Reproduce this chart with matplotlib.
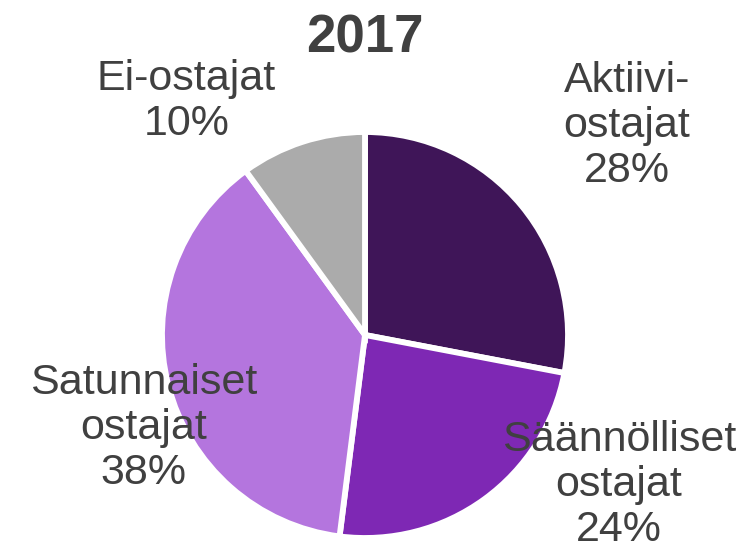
import matplotlib
matplotlib.use('Agg')
import matplotlib.pyplot as plt

plt.rcParams['font.family'] = ['Liberation Sans', 'DejaVu Sans']

# data
labels = ['Aktiivi-\nostajat', 'Säännölliset\nostajat', 'Satunnaiset\nostajat', 'Ei-ostajat']
values = [28, 24, 38, 10]
colors = ['#3f1558', '#7e28b4', '#b475de', '#ababab']
title = '2017'

fig = plt.figure(figsize=(7.43, 5.51), dpi=100)
# pie centre at about (365, 335) px, radius ~203 px
ax = fig.add_axes([(365 - 203) / 743, (551 - 335 - 203) / 551, 406 / 743, 406 / 551])

ax.pie(values, colors=colors, startangle=90, counterclock=False, radius=1,
       wedgeprops=dict(edgecolor='white', linewidth=4.2))
ax.set_xlim(-1, 1)
ax.set_ylim(-1, 1)
ax.set_aspect('equal')
ax.axis('off')

# label positions (data coords around the pie)
label_pos = [(1.29, 1.03), (1.25, -0.74), (-1.09, -0.46), (-0.88, 1.15)]
for lab, v, (x, y) in zip(labels, values, label_pos):
    ax.text(x, y, f'{lab}\n{v}%', ha='center', va='center', multialignment='center',
            fontsize=31, color='#404040', linespacing=1.16, clip_on=False)

ax.text(0, 1.46, title, ha='center', va='center', fontsize=38, fontweight='bold',
        color='#404040', clip_on=False)

plt.savefig('out.png', dpi=100)
